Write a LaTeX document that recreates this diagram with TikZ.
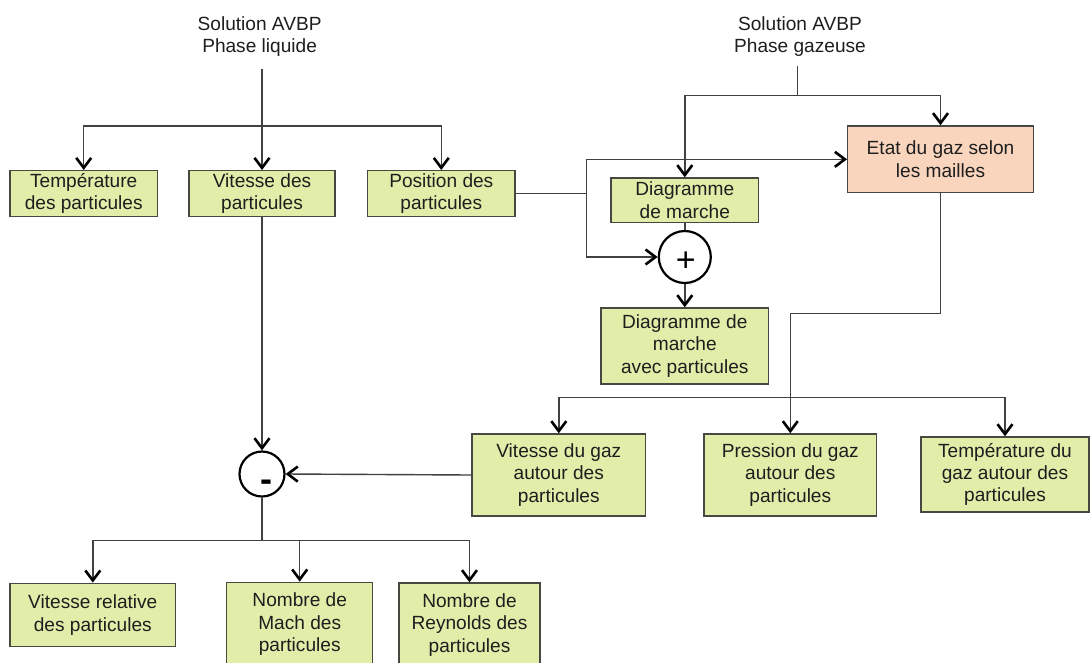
\documentclass[tikz,border=0pt]{standalone}
\usepackage{fontspec}
\setmainfont{Liberation Sans}
\usetikzlibrary{arrows.meta}
\definecolor{boxgreen}{RGB}{226,237,170}
\definecolor{boxorange}{RGB}{250,213,190}
\definecolor{edgecol}{RGB}{70,72,65}
\definecolor{wirecol}{RGB}{65,65,65}
\definecolor{txtcol}{RGB}{30,30,30}
\tikzset{
  box/.style 2 args={draw=edgecol, line width=1.4pt, fill=boxgreen, inner sep=0pt,
    align=center, text=txtcol, minimum width=#1, minimum height=#2},
  obox/.style 2 args={box={#1}{#2}, fill=boxorange},
  title/.style={align=center, text=txtcol, inner sep=0pt},
  opcirc/.style={circle, draw=black, line width=2.2pt, fill=white, minimum size=#1, inner sep=0pt},
  wire/.style={draw=wirecol, line width=1.4pt},
  arr/.style={wire, -{Straight Barb[length=10pt,width=15pt,line width=2.6pt,color=black]}},
  sign/.style={inner sep=0pt, anchor=base, text=black}
}
\begin{document}
\begin{tikzpicture}[x=1pt,y=-1pt,font=\fontsize{19.1}{22.4}\selectfont]
\path[use as bounding box] (0,0) rectangle (1092,662);
\clip (0,0) rectangle (1092,662);
\fill[white] (0,0) rectangle (1092,662);

% titles
\node[title] (liq) at (259.6,36.5) {Solution AVBP\\Phase liquide};
\node[title] (gaz) at (800,36.7) {Solution AVBP\\Phase gazeuse};
\coordinate (liqout) at (262,69.3);
\coordinate (gazout) at (797.3,65.7);

% first row
\node[box={147.3}{46}] (temp) at (83.7,193.7) {Température\\des particules};
\node[box={146}{46}] (vit) at (262,193.7) {Vitesse des\\particules};
\node[box={147.3}{46}] (pos) at (441.3,193.7) {Position des\\particules};

% gas side
\node[obox={185.6}{66.7}] (etat) at (940.5,159.3) {Etat du gaz selon\\les mailles};
\node[box={147.7}{44.7}] (diag) at (684.8,200.3) {Diagramme\\de marche};
\node[opcirc=52] (plus) at (684.8,257) {};
\node[sign,font=\fontsize{34}{34}\selectfont] (plussign) at (685.8,271) {+};
\node[box={167.5}{76}] (diag2) at (684.8,346) {Diagramme de\\marche\\avec particules};

% gas around particles
\node[box={173.7}{82}] (vgaz) at (558.8,475) {Vitesse du gaz\\autour des\\particules};
\node[box={172.6}{82}] (pgaz) at (790.3,475) {Pression du gaz\\autour des\\particules};
\node[box={168}{75}] (tgaz) at (1005,474.5) {Température du\\gaz autour des\\particules};

% minus operator
\node[opcirc=45] (minus) at (262,474) {};
\node[sign,font=\bfseries\fontsize{36}{36}\selectfont] (minussign) at (266,491.5) {-};

% bottom row
\node[box={165.7}{63.4}] (vrel) at (92.8,615) {Vitesse relative\\des particules};
\node[box={146}{84}] (mach) at (299.7,624.3) {Nombre de\\Mach des\\particules};
\node[box={141}{84}] (reyn) at (469.5,625) {Nombre de\\Reynolds des\\particules};

% liquid connectors
\draw[arr] (liqout) -- (vit.north);
\coordinate (j1) at (262,126);
\draw[arr] (j1) -| (temp.north);
\draw[arr] (j1) -| (pos.north);

% gas connectors
\coordinate (j2) at (797.3,95.7);
\draw[wire] (gazout) -- (j2);
\draw[arr] (j2) -| (diag.north);
\draw[arr] (j2) -| (etat.north);

\draw[wire] (pos.east) -- ++(71,0) coordinate (j3);
\draw[arr] (j3) |- (etat.west);
\draw[arr] (j3) |- (plus.west);
\draw[wire] (diag.south) -- (plus.north);
\draw[arr] (plus.south) -- (diag2.north);

\draw[arr] (etat.south) -- ++(0,120.3) -| (pgaz.north);
\coordinate (j5) at (790.3,397.3);
\draw[arr] (j5) -| (vgaz.north);
\draw[arr] (j5) -| (tgaz.north);

% relative velocity
\draw[arr] (vit.south) -- (minus.north);
\draw[arr] (vgaz.west) -- (minus.east);
\draw[wire] (minus.south) -- ++(0,42.8) coordinate (j6);
\draw[arr] (j6) -| (vrel.north);
\draw[arr] (j6) -| (mach.north);
\draw[arr] (j6) -| (reyn.north);
\end{tikzpicture}
\end{document}
